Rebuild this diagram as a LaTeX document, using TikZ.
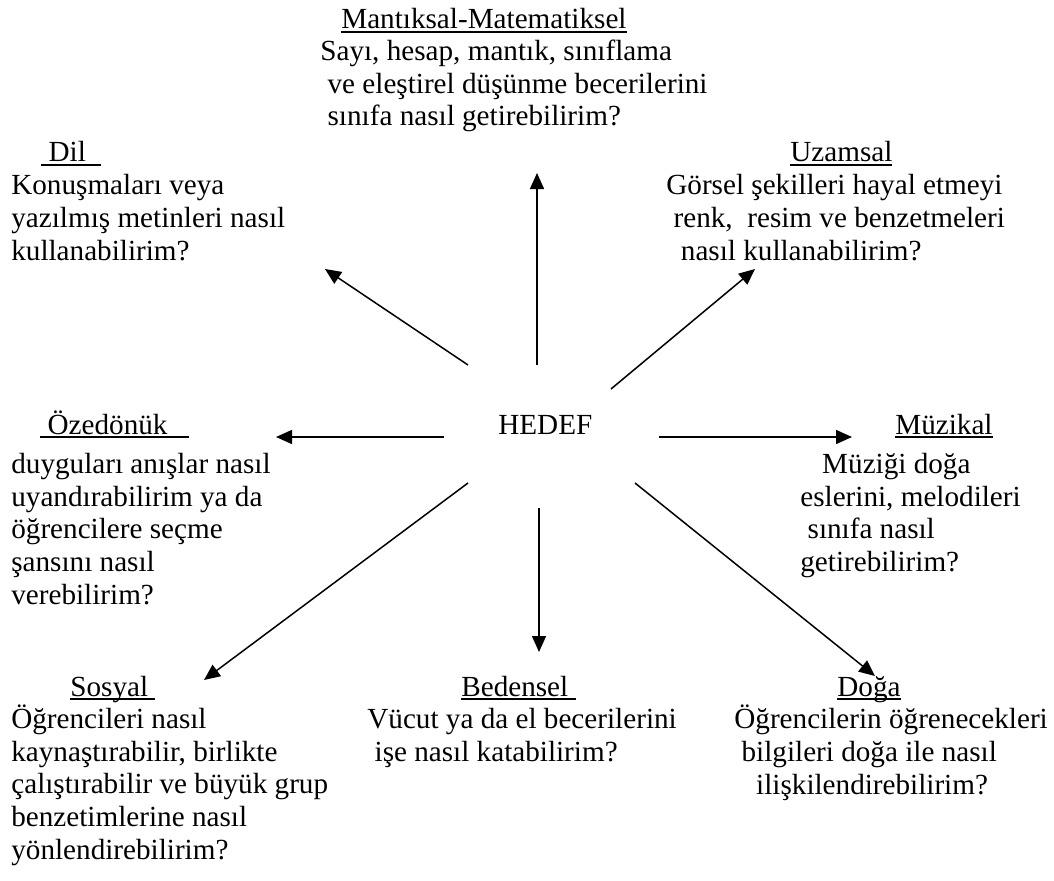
\documentclass[tikz,border=0pt]{standalone}
\usepackage{fontspec}
\setmainfont{Liberation Serif}
\usetikzlibrary{arrows.meta}
% underlined heading, line drawn at a fixed depth
\newcommand\hd[1]{\setbox0=\hbox{#1}\rlap{\rule[-0.75mm]{\wd0}{0.35mm}}\box0}

\begin{document}
\begin{tikzpicture}[x=1mm,y=1mm,font=\fontsize{16.6pt}{18.5pt}\selectfont]
\tikzset{
  heading/.style={anchor=base west,inner sep=0pt},
  question/.style={anchor=base west,inner sep=0pt,align=left}, % base = last line
  ray/.style={line width=0.3mm,-{Triangle[length=3.2mm,width=2.8mm]}}
}
\useasboundingbox (0,0) rectangle (210.8,176);

% centre
\node[heading] (hedef) at (99.6,89.2) {HEDEF};

% top
\node[heading] (mantik) at (68.2,170.2) {\hd{Mantıksal-Matematiksel}};
\node[question] (mantikq) at (64.0,150.8)
  {Sayı, hesap, mantık, sınıflama\\\ ve eleştirel düşünme becerilerini\\\ sınıfa nasıl getirebilirim?};

\node[heading] (dil) at (8.2,143.6) {\hd{\ Dil\ \ }};
\node[question] (dilq) at (2.2,124.0)
  {Konuşmaları veya\\yazılmış metinleri nasıl\\kullanabilirim?};

\node[heading] (uzam) at (158.0,143.6) {\hd{Uzamsal}};
\node[question] (uzamq) at (133.2,124.0)
  {Görsel şekilleri hayal etmeyi\\\ renk,\ \ resim ve benzetmeleri\\\ \ nasıl kullanabilirim?};

% middle
\node[heading] (oze) at (8.0,89.2) {\hd{\ Özedönük\ \ \ }};
\node[question] (ozeq) at (2.2,55.2)
  {duyguları anışlar nasıl\\uyandırabilirim ya da\\öğrencilere seçme\\şansını nasıl\\verebilirim?};

\node[heading] (muzik) at (179.0,89.2) {\hd{Müzikal}};
\node[question] (muzikq) at (160.0,61.7)
  {\ \ \ Müziği doğa\\eslerini, melodileri\\\ sınıfa nasıl\\getirebilirim?};

% bottom
\node[heading] (sosyal) at (14.0,36.8) {\hd{Sosyal\ }};
\node[question] (sosyalq) at (2.2,4.2)
  {Öğrencileri nasıl\\kaynaştırabilir, birlikte\\çalıştırabilir ve büyük grup\\benzetimlerine nasıl\\yönlendirebilirim?};

\node[heading] (beden) at (92.2,36.8) {\hd{Bedensel\ }};
\node[question] (bedenq) at (73.4,23.7)
  {Vücut ya da el becerilerini\\\ işe nasıl katabilirim?};

\node[heading] (doga) at (167.4,36.8) {\hd{Doğa}};
\node[question] (dogaq) at (146.8,17.2)
  {Öğrencilerin öğrenecekleri\\\ bilgileri doğa ile nasıl\\\ \ \ ilişkilendirebilirim?};

% arrow ends
\coordinate (up0) at (107.4,103.0);  \coordinate (up1) at (107.4,141.4);
\coordinate (ul0) at (93.6,103.0);   \coordinate (ul1) at (65.0,122.2);
\coordinate (ur0) at (122.2,98.2);   \coordinate (ur1) at (151.0,122.2);
\coordinate (lf0) at (88.8,88.6);    \coordinate (lf1) at (55.2,88.6);
\coordinate (rt0) at (131.8,88.6);   \coordinate (rt1) at (170.4,88.6);
\coordinate (ll0) at (93.6,79.4);    \coordinate (ll1) at (40.8,40.0);
\coordinate (dn0) at (107.8,74.4);   \coordinate (dn1) at (107.8,45.6);
\coordinate (lr0) at (127.0,79.4);   \coordinate (lr1) at (175.0,40.8);

\draw[ray] (up0) -- (up1);
\draw[ray] (ul0) -- (ul1);
\draw[ray] (ur0) -- (ur1);
\draw[ray] (lf0) -- (lf1);
\draw[ray] (rt0) -- (rt1);
\draw[ray] (ll0) -- (ll1);
\draw[ray] (dn0) -- (dn1);
\draw[ray] (lr0) -- (lr1);
\end{tikzpicture}
\end{document}
